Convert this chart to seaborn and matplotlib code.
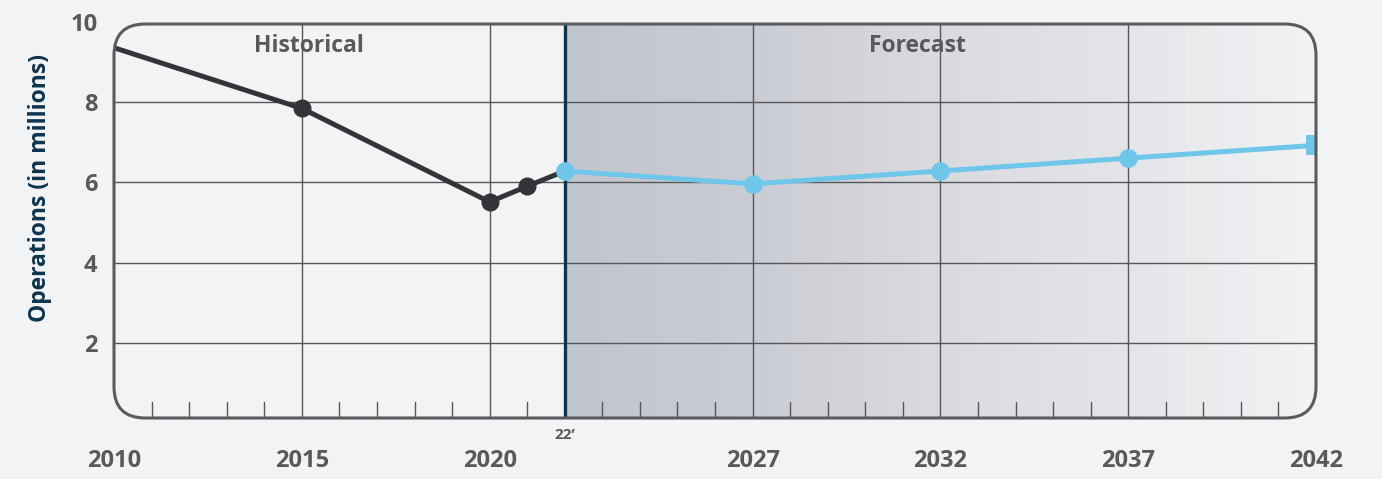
import numpy as np
import pandas as pd
import matplotlib
matplotlib.use("Agg")
import matplotlib.pyplot as plt
from matplotlib.patches import FancyBboxPatch
from matplotlib.colors import LinearSegmentedColormap
import seaborn as sns

# datos
hist_years = [2010, 2015, 2020, 2021, 2022]
hist_ops = [9.35, 7.84, 5.51, 5.90, 6.28]
fc_years = [2022, 2027, 2032, 2037, 2042]
fc_ops = [6.28, 5.96, 6.28, 6.60, 6.92]
x_ticks = [2010, 2015, 2020, 2027, 2032, 2037, 2042]
x_labels = ["2010", "2015", "2020", "2027", "2032", "2037", "2042"]
y_ticks = [2, 4, 6, 8, 10]

bg = "#f2f3f5"
grid_c = "#555659"
text_c = "#58595b"
navy = "#0d3450"
dark = "#333438"
blue = "#6ec6ea"

sns.set_style("white")
plt.rcParams["font.family"] = ["Open Sans", "DejaVu Sans"]

fig = plt.figure(figsize=(13.82, 4.79), dpi=100, facecolor=bg)
ax = fig.add_axes([114 / 1382, 1 - 418 / 479, 1202 / 1382, 398 / 479])
ax.set_facecolor("none")

y0, y1 = 0.13, 10.04
ax.set_xlim(2010, 2042)
ax.set_ylim(y0, y1)
box_top = (9.94 - y0) / (y1 - y0)

# caja redondeada
w_px, h_px = 1202, 398
box = FancyBboxPatch((0, 0), 1, box_top, boxstyle="round,pad=0,rounding_size=0.026",
                     mutation_aspect=w_px / h_px, transform=ax.transAxes,
                     facecolor="none", edgecolor="#5a5b5e", linewidth=2.2,
                     zorder=6, clip_on=False)
ax.add_patch(box)
clip_box = FancyBboxPatch((0, 0), 1, box_top, boxstyle="round,pad=0,rounding_size=0.026",
                          mutation_aspect=w_px / h_px, transform=ax.transAxes,
                          facecolor="none", edgecolor="none")
ax.add_patch(clip_box)

# sombreado del pronostico
cmap = LinearSegmentedColormap.from_list("fc", ["#c3c5cd", "#cbcdd4", "#d9dbdf", "#e4e5e8", "#f1f2f4"])
grad = np.linspace(0, 1, 40).reshape(1, -1)
im = ax.imshow(grad, extent=[2022, 2042, y0, 9.94], aspect="auto", cmap=cmap,
               interpolation="nearest", zorder=0)
im.set_clip_path(clip_box)

# lineas de cuadricula
for yv in [2, 4, 6, 8]:
    l = ax.axhline(yv, color=grid_c, lw=1.0, zorder=1)
    l.set_clip_path(clip_box)
for xv in [2015, 2020, 2027, 2032, 2037]:
    ax.plot([xv, xv], [y0, 9.94], color=grid_c, lw=1.0, zorder=1)
for xv in range(2011, 2042):
    if xv in [2015, 2020, 2022, 2027, 2032, 2037]:
        continue
    ax.plot([xv, xv], [y0, y0 + 0.4], color=grid_c, lw=1.0, zorder=1)
ax.plot([2022, 2022], [y0, 9.94], color=navy, lw=2.4, zorder=2)

hist = pd.DataFrame({"year": hist_years, "ops": hist_ops})
fc = pd.DataFrame({"year": fc_years, "ops": fc_ops})
sns.lineplot(data=hist, x="year", y="ops", ax=ax, color=dark, lw=3.6,
             marker="o", markersize=13, markeredgewidth=0, markevery=[1, 2, 3],
             zorder=3)
sns.lineplot(data=fc, x="year", y="ops", ax=ax, color=blue, lw=3.6,
             marker="o", markersize=13.5, markeredgewidth=0, markevery=[0, 1, 2, 3],
             zorder=4)
ax.plot([2042], [fc_ops[-1]], marker="s", markersize=15, color=blue, mew=0,
        zorder=5)
for line in ax.lines[-3:]:
    line.set_clip_path(clip_box)

ax.text(2015.2, 9.4, "Historical", ha="center", va="center", fontsize=16.5,
        fontweight="bold", color=text_c)
ax.text(2031.4, 9.4, "Forecast", ha="center", va="center", fontsize=16.5,
        fontweight="bold", color=text_c)
ax.text(2022, -0.3, "22\u2019", ha="center", va="center", fontsize=11,
        fontweight="bold", color=text_c, clip_on=False)

ax.set_xticks(x_ticks)
ax.set_xticklabels(x_labels, fontsize=17, fontweight="bold", color=text_c)
ax.set_yticks(y_ticks)
ax.set_yticklabels([str(v) for v in y_ticks], fontsize=17, fontweight="bold", color=text_c)
ax.tick_params(axis="x", length=0, pad=22)
ax.tick_params(axis="y", length=0, pad=12)
ax.set_xlabel("")
ax.set_ylabel("")
for s in ax.spines.values():
    s.set_visible(False)

fig.text(40 / 1382, 1 - 188 / 479, "Operations (in millions)", rotation=90,
         ha="center", va="center", fontsize=16.5, fontweight="bold", color=navy)

fig.savefig("out.png", dpi=100, facecolor=bg)
